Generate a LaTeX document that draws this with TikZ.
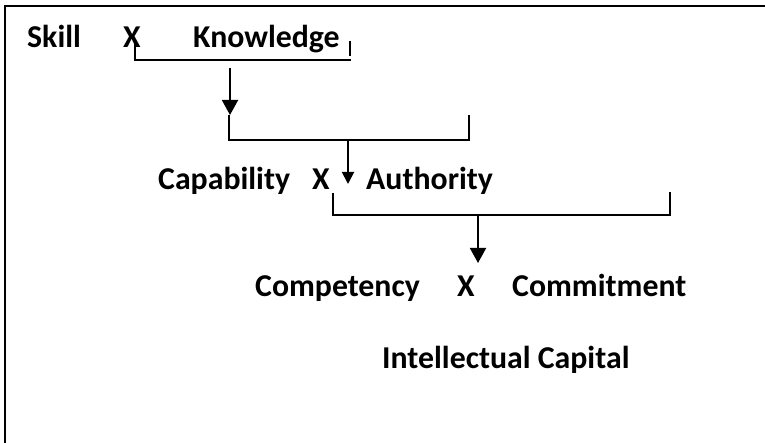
\documentclass[tikz,border=0pt]{standalone}
\usepackage{fontspec}
\setmainfont{Carlito}
\usetikzlibrary{arrows.meta}
\begin{document}
\begin{tikzpicture}[x=1pt,y=-1pt,
  word/.style={anchor=base west,inner sep=0pt,font=\fontsize{31.8}{38}\selectfont\bfseries},
  rule/.style={line width=1.9pt},
  flow/.style={line width=1.9pt,-{Triangle[length=15pt,width=16pt]}},
  smallflow/.style={line width=1.9pt,-{Triangle[length=12pt,width=12pt]}},
]
\useasboundingbox (0,0) rectangle (765,443);
% frame
\draw[line width=2.4pt] (5,443) -- (5,6) -- (765,6);

% first product
\node[word] (skill) at (27,48) {Skill};
\node[word] (x1) at (123,48) {X};
\node[word] (know) at (193,48) {Knowledge};
\coordinate (b1l) at (135,41);
\coordinate (b1r) at (351,60);
\coordinate (bar1t) at (350,41);
\coordinate (bar1b) at (350,56);
\draw[rule] (b1l) |- (b1r);
\draw[rule] (bar1t) -- (bar1b);
\coordinate (a1s) at (230,68);
\coordinate (a1e) at (230,115);
\draw[flow] (a1s) -- (a1e);

% second bracket
\coordinate (b2l) at (229,115);
\coordinate (b2r) at (469,115);
\draw[rule] (b2l) -- (229,140) -- (469,140) -- (b2r);
\coordinate (a2s) at (348,140);
\coordinate (a2e) at (348,184);
\draw[smallflow] (a2s) -- (a2e);

% second product
\node[word] (capab) at (158,190) {Capability};
\node[word] (x2) at (312,190) {X};
\node[word] (auth) at (366,190) {Authority};

% third bracket
\coordinate (b3l) at (333,193);
\coordinate (b3r) at (670,192);
\draw[rule] (b3l) -- (333,215) -- (670,215) -- (b3r);
\coordinate (a3s) at (478,215);
\coordinate (a3e) at (478,263);
\draw[flow] (a3s) -- (a3e);

% third product and result
\node[word] (comp) at (255,297) {Competency};
\node[word] (x3) at (457,297) {X};
\node[word] (commit) at (512,297) {Commitment};
\node[word] (ic) at (382,368) {Intellectual Capital};
\end{tikzpicture}
\end{document}
